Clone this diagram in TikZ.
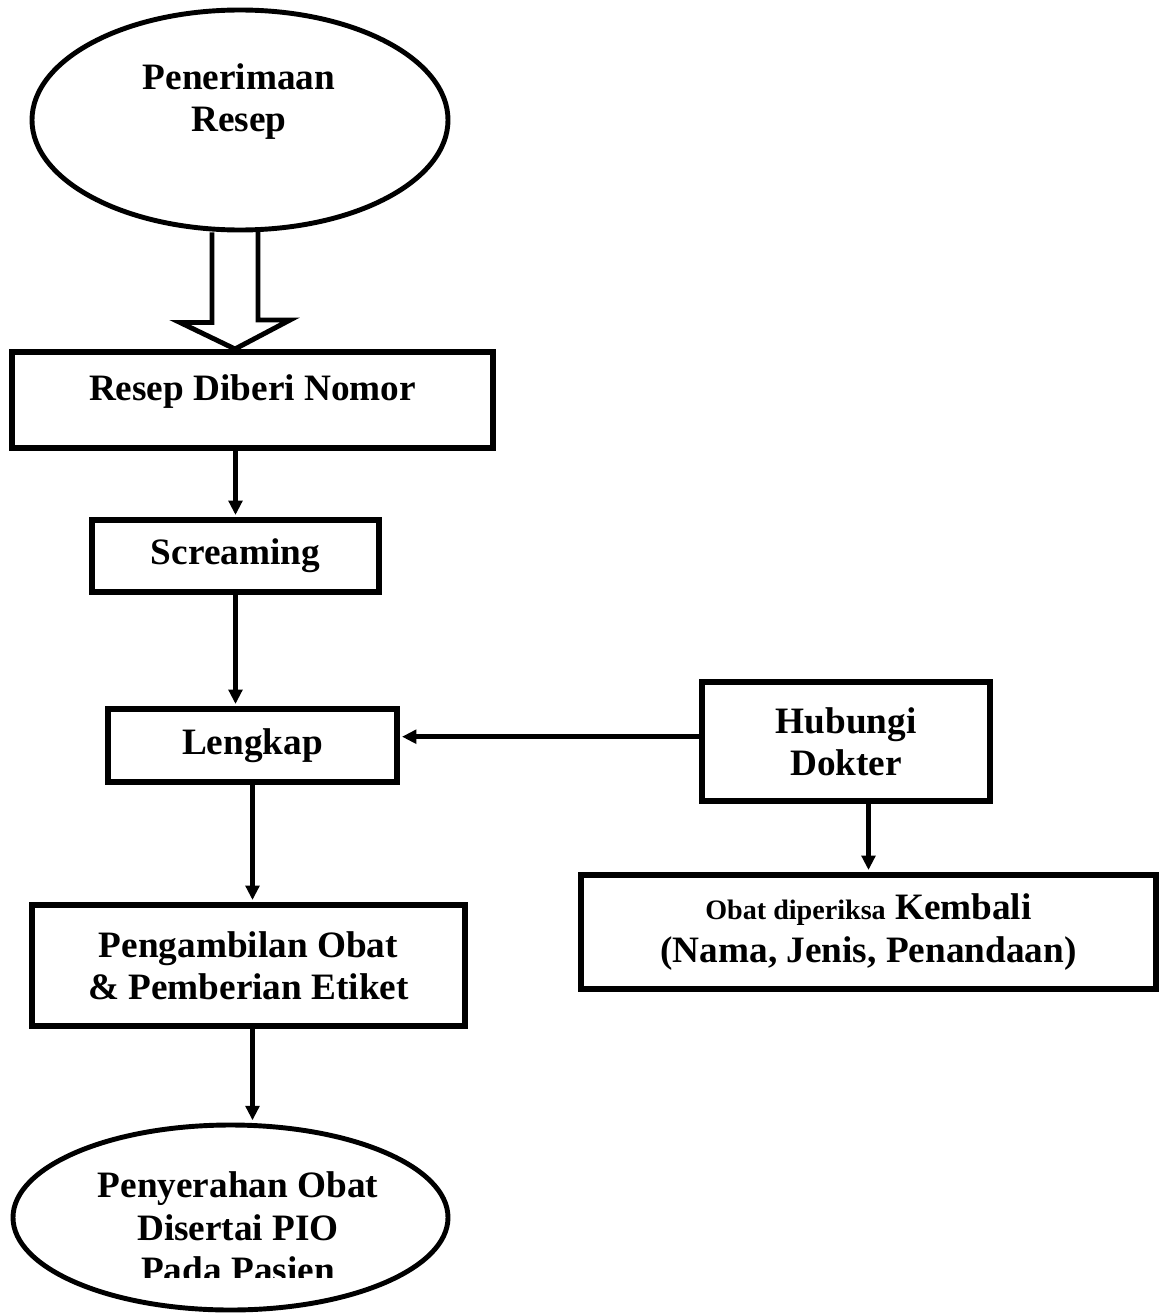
\documentclass[tikz,border=0pt]{standalone}
\usepackage{fontspec}
\setmainfont{Liberation Serif}
\usetikzlibrary{arrows.meta, shapes.geometric}

\begin{document}
\begin{tikzpicture}[>={Triangle[length=0.36cm, width=0.34cm]},
    box/.style={draw, line width=3.9pt, align=center, inner sep=0pt,
        font=\fontsize{26.5}{30.2}\selectfont\bfseries},
    oval/.style={draw, ellipse, line width=3.5pt, inner sep=0pt},
    txt/.style={align=center, inner sep=0pt,
        font=\fontsize{26.5}{30.2}\selectfont\bfseries},
    flow/.style={->, line width=3.2pt, shorten >=1.6pt}]

    % Page frame
    \useasboundingbox (0,0) rectangle (28.975,-32.825);

    % Start
    \node[oval, minimum width=10.4cm, minimum height=5.5cm] (terima) at (6.0,-3.0) {};
    \node[txt, anchor=north] (terimatxt) at (5.975,-1.575) {Penerimaan\\Resep};

    % Hollow arrow into the first step
    \coordinate (tip) at (5.875,-8.725);
    \draw[line width=3.5pt, line join=miter]
        ([xshift=-0.575cm]tip |- terima.south) -- ++(0,-2.25) -- ++(-0.8,0)
        -- (tip) -- ++(1.375,0.725) -- ++(-0.8,0) -- ++(0,2.25);

    % Main steps
    \node[box, minimum width=12.025cm, minimum height=2.4cm,
          text height=0.625cm, text depth=0.625cm] (nomor) at (6.3125,-10.0) {Resep Diberi Nomor};
    \node[box, minimum width=7.175cm, minimum height=1.8cm] (scream) at (5.8875,-13.9) {Screaming};
    \node[box, minimum width=7.225cm, minimum height=1.825cm] (lengkap) at (6.3125,-18.6375) {Lengkap};
    \node[box, minimum width=10.825cm, minimum height=3.025cm] (ambil) at (6.2125,-24.1375)
        {Pengambilan Obat\\\& Pemberian Etiket};

    % Side branch
    \node[box, minimum width=7.2cm, minimum height=2.975cm] (hubungi) at (21.15,-18.5375) {Hubungi\\Dokter};
    \node[box, minimum width=14.375cm, minimum height=2.85cm] (obat) at (21.7125,-23.3)
        {{\fontsize{20}{30.2}\selectfont Obat diperiksa} Kembali\\(Nama, Jenis, Penandaan)};

    % End
    \node[oval, minimum width=10.875cm, minimum height=4.625cm] (serah) at (5.7625,-30.4375) {};
    \begin{scope}
        \clip (0,0) rectangle (28.975,-31.925);
        \node[txt, anchor=north] (serahtxt) at (5.95,-29.29) {Penyerahan Obat\\Disertai PIO\\Pada Pasien};
    \end{scope}

    % Connectors
    \draw[flow] (nomor.south -| scream.north) -- (scream.north);
    \draw[flow] (scream.south) -- (scream.south |- lengkap.north);
    \draw[flow] ([yshift=0.12cm]hubungi.west) -- ([yshift=0.12cm]hubungi.west -| lengkap.east);
    \draw[flow] (obat.north |- hubungi.south) -- (obat.north);
    \draw[flow] (lengkap.south) -- (lengkap.south |- ambil.north);
    \draw[flow] (lengkap.south |- ambil.south) -- (lengkap.south |- serah.north);

\end{tikzpicture}
\end{document}
